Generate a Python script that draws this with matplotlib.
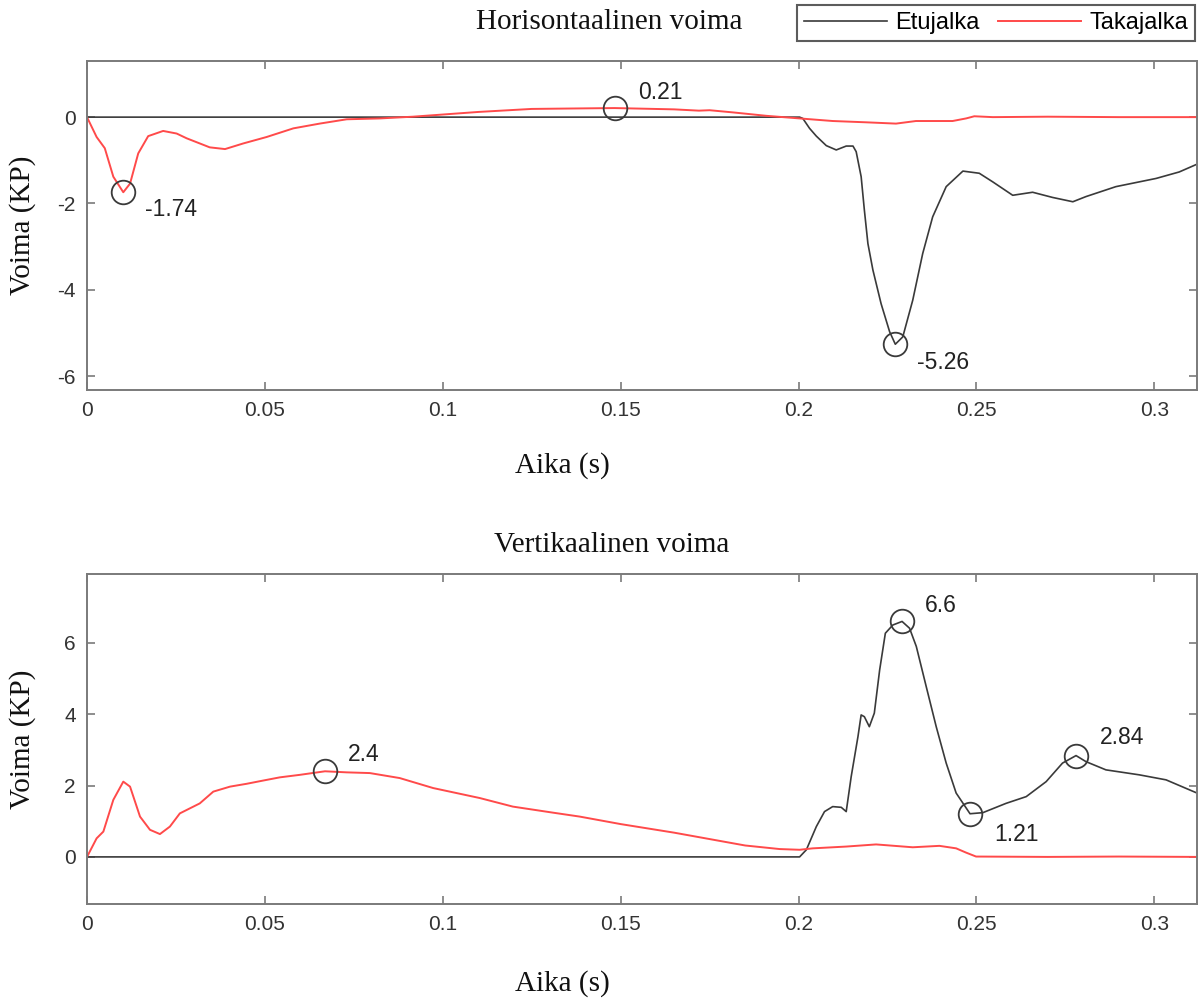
# force plots for front leg (Etujalka) and hind leg (Takajalka)
import numpy as np
import matplotlib
matplotlib.use('Agg')
import matplotlib.pyplot as plt

# horizontal force, hind leg
t_hor_taka = [0, 0.0027, 0.005, 0.0074, 0.0102, 0.0121, 0.0144, 0.0172, 0.0214, 0.0252, 0.028,
              0.0345, 0.0388, 0.0439, 0.0505, 0.058, 0.0654, 0.073, 0.0823, 0.0916, 0.110,
              0.125, 0.1483, 0.165, 0.172, 0.175, 0.1815, 0.191, 0.2003, 0.2096, 0.219,
              0.2274, 0.233, 0.2433, 0.2471, 0.2494, 0.2546, 0.27, 0.29, 0.312]
f_hor_taka = [0, -0.46, -0.72, -1.38, -1.74, -1.54, -0.84, -0.44, -0.32, -0.38, -0.49,
              -0.70, -0.74, -0.61, -0.46, -0.26, -0.15, -0.05, -0.03, 0.01, 0.12,
              0.19, 0.21, 0.18, 0.15, 0.16, 0.11, 0.03, -0.03, -0.09, -0.12,
              -0.15, -0.09, -0.09, -0.03, 0.02, 0.0, 0.01, 0.0, 0.0]

# horizontal force, front leg
t_hor_etu = [0, 0.2003, 0.2012, 0.2031, 0.205, 0.2078, 0.2106, 0.2134, 0.2153, 0.2162, 0.2176,
             0.2185, 0.2195, 0.2209, 0.2232, 0.2256, 0.2272, 0.2293, 0.2321, 0.2349, 0.2377,
             0.2415, 0.2462, 0.2508, 0.2546, 0.2602, 0.2658, 0.2714, 0.2771, 0.2808, 0.2892,
             0.3005, 0.307, 0.312]
f_hor_etu = [0, 0, -0.03, -0.26, -0.44, -0.66, -0.76, -0.67, -0.67, -0.80, -1.38,
             -2.15, -2.93, -3.54, -4.32, -4.97, -5.26, -5.09, -4.24, -3.16, -2.31,
             -1.61, -1.25, -1.30, -1.50, -1.81, -1.74, -1.86, -1.96, -1.84, -1.61,
             -1.42, -1.27, -1.09]

# vertical force, hind leg
t_ver_taka = [0, 0.0027, 0.0046, 0.0074, 0.0102, 0.0121, 0.0149, 0.0177, 0.0205, 0.0233, 0.0261,
              0.0299, 0.0317, 0.0355, 0.0402, 0.0449, 0.0495, 0.0542, 0.0598, 0.0669, 0.073,
              0.0795, 0.0879, 0.0973, 0.1104, 0.1197, 0.131, 0.1385, 0.15, 0.165, 0.175,
              0.185, 0.1947, 0.2003, 0.204, 0.2134, 0.2218, 0.2321, 0.2396, 0.2443, 0.2471,
              0.2499, 0.27, 0.29, 0.312]
f_ver_taka = [0, 0.52, 0.71, 1.60, 2.11, 1.97, 1.13, 0.76, 0.64, 0.85, 1.22,
              1.41, 1.50, 1.83, 1.97, 2.05, 2.14, 2.23, 2.30, 2.40, 2.37,
              2.35, 2.21, 1.93, 1.65, 1.41, 1.24, 1.13, 0.92, 0.68, 0.50,
              0.32, 0.22, 0.20, 0.24, 0.29, 0.35, 0.27, 0.31, 0.24, 0.12,
              0.01, 0.0, 0.01, 0.0]

# vertical force, front leg
t_ver_etu = [0, 0.2003, 0.2022, 0.205, 0.2073, 0.2096, 0.212, 0.2134, 0.2148, 0.2167, 0.2176,
             0.2185, 0.2199, 0.2213, 0.2228, 0.2244, 0.2265, 0.2291, 0.2312, 0.2331, 0.2359,
             0.2387, 0.2415, 0.2443, 0.2482, 0.2518, 0.2583, 0.264, 0.2696, 0.2742, 0.278,
             0.2808, 0.2864, 0.2958, 0.3033, 0.312]
f_ver_etu = [0, 0, 0.2, 0.85, 1.27, 1.41, 1.39, 1.27, 2.25, 3.37, 3.98,
             3.93, 3.65, 4.03, 5.24, 6.27, 6.50, 6.60, 6.41, 5.90, 4.77,
             3.65, 2.63, 1.79, 1.21, 1.24, 1.50, 1.69, 2.11, 2.63, 2.84,
             2.67, 2.44, 2.30, 2.16, 1.79]

# marked peaks: (time, force, label)
peaks_hor = [(0.0102, -1.74, '-1.74'), (0.1483, 0.21, '0.21'), (0.2272, -5.26, '-5.26')]
peaks_ver = [(0.0669, 2.40, '2.4'), (0.2291, 6.60, '6.6'), (0.2482, 1.21, '1.21'), (0.278, 2.84, '2.84')]
# label offsets in data units (dx, dy)
offs_hor = [(0.0061, -0.41), (0.0065, 0.37), (0.0062, -0.42)]
offs_ver = [(0.0064, 0.46), (0.0063, 0.46), (0.0068, -0.57), (0.0066, 0.50)]

black = '#3a3a3a'
red = '#ff4a4a'
grey = '#7a7a7a'
serif = 'Liberation Serif'
sans = 'Liberation Sans'

W, H = 1198, 1000
fig = plt.figure(figsize=(W / 100, H / 100), dpi=100)
ax1 = fig.add_axes([87/W, 1-390/H, 1110/W, 329/H])
ax2 = fig.add_axes([87/W, 1-904/H, 1110/W, 330/H])


def style(ax, title, ylim, yticks, title_px, xlabel_px, ylabel_px):
    ax.set_xlim(0, 0.312)
    ax.set_ylim(*ylim)
    ax.set_xticks([0, 0.05, 0.1, 0.15, 0.2, 0.25, 0.3])
    ax.set_xticklabels(['0', '0.05', '0.1', '0.15', '0.2', '0.25', '0.3'])
    ax.set_yticks(yticks)
    ax.set_yticklabels([str(v) for v in yticks])
    ax.tick_params(direction='in', length=6, width=1.2, color=grey, top=True, right=True,
                   labelsize=15, labelcolor='#333333', pad=8)
    for lab in ax.get_xticklabels() + ax.get_yticklabels():
        lab.set_family(sans)
    for s in ax.spines.values():
        s.set_color(grey)
        s.set_linewidth(1.4)
    txt = dict(fontsize=21, family=serif, color='#111111', ha='center', va='center')
    fig.text(title_px[0] / W, 1 - title_px[1] / H, title, **txt)
    fig.text(xlabel_px[0] / W, 1 - xlabel_px[1] / H, 'Aika (s)', **txt)
    fig.text(ylabel_px[0] / W, 1 - ylabel_px[1] / H, 'Voima (KP)', rotation=90, **txt)


def peaks(ax, pts, offs):
    for (x, y, s), (dx, dy) in zip(pts, offs):
        ax.plot(x, y, 'o', ms=17, mfc='none', mec=black, mew=1.3, zorder=5)
        ax.text(x + dx, y + dy, s, fontsize=16.5, family=sans, color='#222222',
                ha='left', va='center')


# Horizontal force
l1, = ax1.plot(t_hor_etu, f_hor_etu, color=black, lw=1.2, label='Etujalka')
l2, = ax1.plot(t_hor_taka, f_hor_taka, color=red, lw=1.4, label='Takajalka')
peaks(ax1, peaks_hor, offs_hor)
style(ax1, 'Horisontaalinen voima', (-6.32, 1.30), [-6, -4, -2, 0],
      (609, 22), (562, 466), (23, 225))

# Vertical force
ax2.plot(t_ver_etu, f_ver_etu, color=black, lw=1.2)
ax2.plot(t_ver_taka, f_ver_taka, color=red, lw=1.4)
peaks(ax2, peaks_ver, offs_ver)
style(ax2, 'Vertikaalinen voima', (-1.32, 7.93), [0, 2, 4, 6],
      (612, 545), (562, 984), (23, 739))

leg = fig.legend(handles=[l1, l2], loc='upper right', bbox_to_anchor=(1195/W, 1-5/H),
                 ncol=2, frameon=True, fancybox=False, edgecolor='#333333',
                 prop={'family': sans, 'size': 17}, handlelength=3.5,
                 handletextpad=0.35, columnspacing=0.8, borderpad=0.3, borderaxespad=0)
leg.get_frame().set_linewidth(1.5)

plt.savefig('out.png', dpi=100)
